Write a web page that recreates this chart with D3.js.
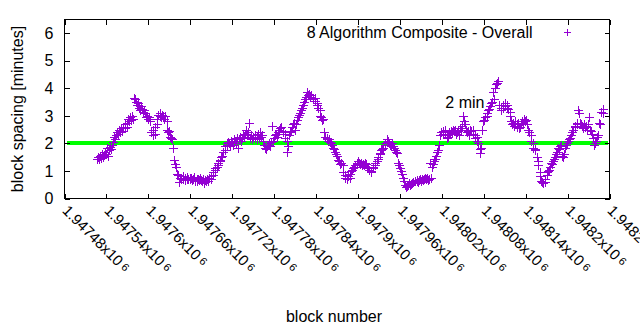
<!DOCTYPE html>
<html><head><meta charset="utf-8">
<script src="https://cdn.jsdelivr.net/npm/d3@7"></script>
<style>
html,body{margin:0;padding:0;background:#fff;}
svg{display:block;font-family:"Liberation Sans",Arial,sans-serif;}
</style></head><body>
<svg id="chart" width="640" height="330"></svg>
<script>
// ---------- data ----------
const blockBase = 1947480;
const blockOffset = [
47,48,50,
51,52,54,55,57,58,60,61,62,64,
65,66,68,69,71,72,74,75,76,78,
80,81,83,84,86,87,89,90,91,93,
94,95,97,98,100,101,103,104,105,107,
108,109,111,112,114,115,117,118,119,121,
123,124,126,127,129,130,132,133,134,136,
137,138,140,141,143,144,146,147,148,150,
151,152,154,155,157,158,160,161,162,164,
166,167,169,170,172,173,175,176,177,179,
180,181,183,184,186,187,189,190,191,193,
194,195,197,198,200,201,203,204,205,207,
209,210,212,213,215,216,218,219,220,222,
223,224,226,227,229,230,232,233,234,236,
237,238,240,241,243,244,246,247,248,250,
251,252,254,255,257,258,260,261,262,264,
266,267,269,270,272,273,275,276,277,279,
280,281,283,284,286,287,289,290,291,293,
294,295,297,298,300,301,303,304,305,307,
309,310,312,313,315,316,318,319,320,322,
323,324,326,327,329,330,332,333,334,336,
337,338,340,341,343,344,346,347,348,350,
352,353,355,356,358,359,361,362,363,365,
366,367,369,370,372,373,375,376,377,379,
380,381,383,384,386,387,389,390,391,393,
395,396,398,399,401,402,404,405,406,408,
409,410,412,413,415,416,418,419,420,422,
423,424,426,427,429,430,432,433,434,436,
438,439,441,442,444,445,447,448,449,451,
452,453,455,456,458,459,461,462,463,465,
466,467,469,470,472,473,475,476,477,479,
480,481,483,484,486,487,489,490,491,493,
495,496,498,499,501,502,504,505,506,508,
509,510,512,513,515,516,518,519,520,522,
523,524,526,527,529,530,532,533,534,536,
538,539,541,542,544,545,547,548,549,551,
552,553,555,556,558,559,561,562,563,565,
566,567,569,570,572,573,575,576,577,579,
581,582,584,585,587,588,590,591,592,594,
595,596,598,599,601,602,604,605,606,608,
609,610,612,613,615,616,618,619,620,622,
624,625,627,628,630,631,633,634,635,637,
638,639,641,642,644,645,647,648,649,651,
652,653,655,656,658,659,661,662,663,665,
667,668,670,671,673,674,676,677,678,680,
681,682,684,685,687,688,690,691,692,694,
695,696,698,699,701,702,704,705,706,708,
709,710,712,713,715,716,718,719,720,722,
724,725,727,728,730,731,733,734,735,737,
738,739,741,742,744,745,747,748,749,751,
752,753,755,756,758,759,761,762,763,765,
767,768,770,771
];
const spacingMinutes = [
1.45,1.5,1.42,
1.55,1.48,1.6,1.52,1.58,1.7,1.62,1.85,1.55,1.75,
1.88,1.8,1.95,2.05,2.25,2.15,2.3,2.4,2.35,2.5,
2.42,2.55,2.45,2.6,2.7,2.55,2.75,2.6,2.9,2.8,
2.95,2.85,3.0,2.9,3.65,3.6,3.5,3.4,3.45,3.3,
3.2,3.35,3.25,3.15,3.2,3.1,2.95,3.0,2.9,2.95,
2.8,2.4,2.3,2.5,2.35,2.6,2.7,2.9,3.05,3.0,
3.1,2.95,3.05,3.0,2.9,3.0,2.8,2.5,2.4,2.45,
2.25,2.2,2.15,1.85,1.4,1.25,1.15,0.9,0.85,0.6,
0.75,0.7,0.8,0.72,0.68,0.75,0.7,0.78,0.72,0.76,
0.7,0.74,0.68,0.72,0.78,0.65,0.7,0.62,0.72,0.66,
0.74,0.68,0.62,0.7,0.58,0.66,0.62,0.7,0.65,0.75,
0.72,0.8,0.85,0.95,1.05,1.1,1.15,1.2,1.3,1.35,
1.4,1.5,1.55,1.7,1.75,1.9,2.0,1.95,2.05,2.0,
1.9,2.1,2.05,1.95,2.15,2.1,2.0,2.2,1.85,2.15,
2.25,2.1,2.2,2.3,2.25,2.35,2.5,2.3,2.4,2.75,
2.2,2.3,2.15,2.25,2.2,2.3,2.15,2.25,2.35,2.2,
2.4,2.25,2.3,2.1,1.95,1.85,1.8,1.9,1.95,2.0,
1.9,2.05,2.65,2.1,2.2,2.3,2.35,2.25,2.4,2.5,
2.55,2.6,2.45,2.4,2.35,2.2,2.1,1.7,1.9,2.3,
2.4,2.45,2.6,2.7,2.75,2.5,2.7,2.85,2.95,3.05,
3.1,3.2,3.3,3.4,3.5,3.6,3.7,3.85,3.75,3.8,
3.7,3.75,3.65,3.6,3.55,3.65,3.45,3.4,3.3,3.2,
3.0,2.95,2.85,2.9,2.4,2.25,2.15,2.2,2.1,2.15,
2.05,2.0,1.95,1.85,1.8,1.7,1.6,1.55,1.4,1.35,
1.25,1.3,1.2,0.95,0.85,0.75,0.7,0.7,0.8,0.75,
0.9,1.0,1.05,1.1,1.15,1.2,1.3,1.25,1.35,1.3,
1.25,1.3,1.2,1.25,1.22,1.3,1.25,1.15,1.1,1.05,
0.95,1.0,1.1,1.15,1.2,1.3,1.35,1.45,1.5,1.6,
1.65,1.75,1.8,1.85,1.95,2.0,2.05,2.15,2.1,2.0,
1.95,1.9,2.0,1.9,1.85,1.75,1.7,1.65,1.3,1.2,
1.1,1.0,0.9,0.75,0.65,0.5,0.4,0.45,0.5,0.55,
0.48,0.52,0.58,0.6,0.62,0.65,0.62,0.68,0.6,0.66,
0.7,0.65,0.72,0.68,0.7,0.75,0.7,0.75,0.68,0.72,
1.3,0.75,1.15,1.25,1.35,1.45,1.55,1.7,1.75,1.95,
2.3,2.4,2.45,2.35,2.5,2.4,2.3,2.2,2.25,2.4,
2.35,2.45,2.4,2.5,2.45,2.5,2.35,2.4,2.45,2.3,
2.55,2.5,2.65,3.0,2.8,2.7,2.5,2.4,2.45,2.3,
2.5,2.45,2.35,2.5,2.3,2.2,2.25,2.1,2.0,1.8,
1.65,1.85,2.5,2.8,2.85,2.95,3.0,3.1,3.2,3.25,
3.35,3.45,3.5,3.85,3.6,4.0,4.15,4.2,4.25,3.4,
3.3,3.2,3.3,3.4,3.45,3.35,3.4,3.3,3.25,3.15,
3.0,2.8,2.7,2.75,2.65,2.8,2.7,2.6,2.75,2.55,
2.6,2.7,2.8,2.75,2.9,2.8,2.85,2.7,2.5,2.4,
2.3,2.1,2.0,1.85,1.75,1.8,1.5,1.35,1.2,0.95,
0.8,0.65,0.6,0.55,0.6,0.7,0.85,0.95,1.0,1.05,
1.15,1.3,1.25,1.35,1.45,1.5,1.6,1.7,1.85,1.8,
1.9,1.95,1.55,1.5,1.6,1.85,1.95,2.0,2.1,2.15,
2.2,2.3,2.4,2.5,2.6,2.65,2.75,2.7,3.2,3.1,
2.75,2.7,2.65,2.55,2.7,2.6,2.65,2.5,2.7,2.95,
2.5,2.45,2.35,2.2,1.95,2.0,2.1,2.25,2.3,2.75,
2.7,3.15,3.25,3.1
];
const xTickValues = [1947480,1947540,1947600,1947660,1947720,1947780,1947840,1947900,1947960,1948020,1948080,1948140,1948200,1948260];
const xTickMantissa = ["1.94748","1.94754","1.9476","1.94766","1.94772","1.94778","1.94784","1.9479","1.94796","1.94802","1.94808","1.94814","1.9482","1.94826"];
const xTickExponent = "6";
const yTickValues = [0,1,2,3,4,5,6];
const yDomain = [0, 6.5];
const targetSpacing = 2;
const targetLabel = "2 min";
const targetLabelAt = [1948025, 3.5];
const seriesName = "8 Algorithm Composite - Overall";
const xTitle = "block number";
const yTitle = "block spacing [minutes]";

// ---------- drawing ----------
const purple = "#9400d3", green = "#00ff00";
const svg = d3.select("#chart");
const x = d3.scaleLinear().domain([xTickValues[0], xTickValues[xTickValues.length-1]]).range([64.5, 609.5]);
const y = d3.scaleLinear().domain(yDomain).range([198.5, 19.5]);
const FS = 16;

const points = blockOffset.map((o,i) => ({block: blockBase + o, v: spacingMinutes[i]})).filter(d => d.v != null);

function plusPath(px, py, r) {
  const cx = Math.round(px), cy = Math.round(py);
  return `M${cx-r},${cy+0.5}H${cx+r+1}M${cx+0.5},${cy-r}V${cy+r+1}`;
}

// reference line at 2 minutes
svg.append("line")
  .attr("x1", x.range()[0] + 2).attr("x2", x.range()[1] - 2)
  .attr("y1", Math.round(y(targetSpacing)) - 0.5).attr("y2", Math.round(y(targetSpacing)) - 0.5)
  .attr("stroke", green).attr("stroke-width", 4).attr("shape-rendering", "crispEdges");

// scatter markers
svg.append("path")
  .attr("d", points.map(d => plusPath(x(d.block), y(d.v), 4)).join(""))
  .attr("fill", "none").attr("stroke", purple).attr("stroke-width", 1)
  .attr("shape-rendering", "crispEdges");

// axes (ticks inward, mirrored)
function styleAxis(g) {
  g.attr("font-family", null).attr("font-size", null);
  g.select(".domain").remove();
  g.selectAll(".tick line").attr("stroke", "#000").attr("shape-rendering", "crispEdges");
  g.selectAll(".tick text").attr("fill", "#000").style("font-size", FS + "px");
}
svg.append("g").attr("transform", `translate(0,${y.range()[0]})`)
  .call(d3.axisBottom(x).tickValues(xTickValues).tickSize(-5).tickFormat(""))
  .call(styleAxis);
svg.append("g").attr("transform", `translate(0,${y.range()[1]})`)
  .call(d3.axisTop(x).tickValues(xTickValues).tickSize(-5).tickFormat(""))
  .call(styleAxis);
svg.append("g").attr("transform", `translate(${x.range()[0]},0)`)
  .call(d3.axisLeft(y).tickValues(yTickValues).tickSize(-5).tickPadding(11).tickFormat(d3.format("d")))
  .call(styleAxis);
svg.append("g").attr("transform", `translate(${x.range()[1]},0)`)
  .call(d3.axisRight(y).tickValues(yTickValues).tickSize(-5).tickFormat(""))
  .call(styleAxis);

// frame
svg.append("rect")
  .attr("x", x.range()[0]).attr("y", y.range()[1])
  .attr("width", x.range()[1] - x.range()[0]).attr("height", y.range()[0] - y.range()[1])
  .attr("fill", "none").attr("stroke", "#000").attr("shape-rendering", "crispEdges");

// rotated x tick labels
const xl = svg.append("g").style("font-size", "15px").attr("fill", "#000");
xTickValues.forEach((v, i) => {
  const t = xl.append("text")
    .attr("transform", `translate(${x(v) - 3},${y.range()[0] + 13}) rotate(45)`)
    .attr("text-anchor", "start");
  t.append("tspan").text(xTickMantissa[i] + "x10");
  t.append("tspan").attr("dx", 3).attr("dy", -2).style("font-size", "11px").text(xTickExponent);
});

// axis titles
svg.append("text").attr("x", 334).attr("y", 321.5).attr("text-anchor", "middle")
  .style("font-size", FS + "px").attr("fill", "#000").text(xTitle);
svg.append("text").attr("transform", `translate(22.5,${(y.range()[0] + y.range()[1]) / 2}) rotate(-90)`)
  .attr("text-anchor", "middle").style("font-size", FS + "px").attr("fill", "#000").text(yTitle);

// legend
svg.append("text").attr("x", 532.5).attr("y", 37.5).attr("text-anchor", "end")
  .style("font-size", FS + "px").attr("fill", "#000").text(seriesName);
svg.append("path").attr("d", plusPath(567, 32, 3))
  .attr("fill", "none").attr("stroke", purple).attr("shape-rendering", "crispEdges");

// "2 min" label
svg.append("text").attr("x", x(targetLabelAt[0])).attr("y", y(targetLabelAt[1])).attr("dy", "0.35em")
  .style("font-size", FS + "px").attr("fill", "#000").text(targetLabel);
</script>
</body></html>
